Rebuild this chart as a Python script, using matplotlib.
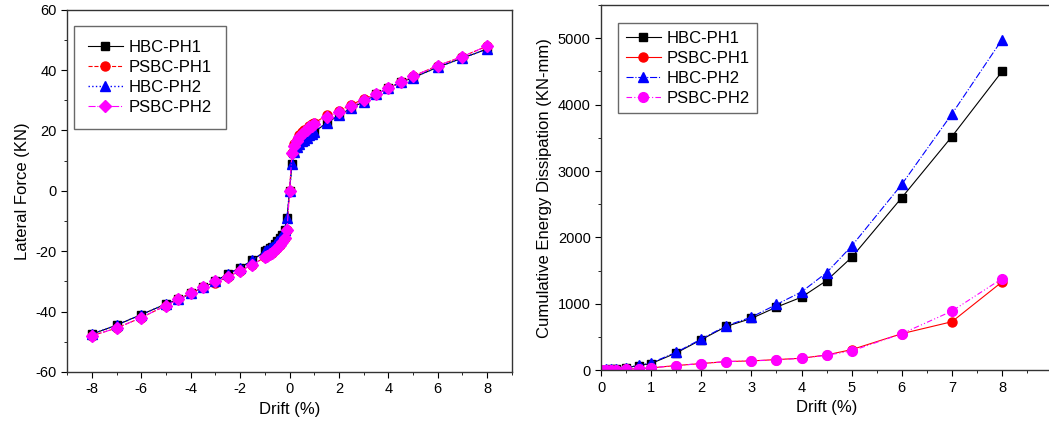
import numpy as np
import matplotlib.pyplot as plt
from matplotlib.ticker import MultipleLocator

plt.rcParams['font.family'] = ['Liberation Sans', 'DejaVu Sans']
plt.rcParams['axes.unicode_minus'] = False

# backbone curves (drift %, lateral force kN)
drift_bb = [-8, -7, -6, -5, -4.5, -4, -3.5, -3, -2.5, -2, -1.5, -1, -0.9, -0.8, -0.7,
            -0.6, -0.5, -0.4, -0.3, -0.2, -0.1, 0, 0.1, 0.2, 0.3, 0.4, 0.5, 0.6, 0.7,
            0.8, 0.9, 1, 1.5, 2, 2.5, 3, 3.5, 4, 4.5, 5, 6, 7, 8]
hbc_ph1_bb = [-47.5, -44.5, -41, -37.5, -36, -34, -32, -30, -27.5, -25.5, -23, -20,
              -19.5, -19, -18.5, -17.5, -16.5, -15.5, -14.5, -13, -9, 0, 9, 13, 14.5,
              15.5, 16.5, 17, 17.5, 18.5, 19, 19.5, 22.5, 25, 27.5, 29.5, 32, 34, 36,
              37.5, 41, 44, 47]
psbc_ph1_bb = [-48, -45.5, -42, -38, -36, -34, -32, -30.5, -28.5, -26.5, -24.5, -22,
               -21.5, -21, -20.5, -19.5, -19, -18, -17, -15.5, -13, 0, 12.5, 15.5, 17,
               18.5, 19.5, 20, 20.5, 21.5, 22, 22.5, 25, 26.5, 28.5, 30.5, 32, 34, 36,
               38, 41.5, 44.5, 48]
hbc_ph2_bb = [-47.5, -44.5, -41, -37.5, -36, -34, -32, -30, -27.5, -25.5, -23, -20,
              -19.5, -19, -18.5, -17.5, -16.5, -15.5, -14.5, -13, -9, 0, 9, 13, 14.5,
              15.5, 16.5, 17, 17.5, 18.5, 19, 19.5, 22.5, 25, 27.5, 29.5, 32, 34, 36,
              37.5, 41, 44, 47]
psbc_ph2_bb = [-48, -45.5, -42, -38, -36, -34, -32, -30, -28.5, -26.5, -24.5, -22,
               -21.5, -21, -20.5, -19.5, -19, -18, -17, -15.5, -13, 0, 12.5, 15, 16.5,
               18, 19, 19.5, 20, 21, 21.5, 22, 24.5, 26, 28, 30, 32, 34, 36, 38, 41.5,
               44.5, 48]

# cumulative energy dissipation (drift %, kN-mm)
drift_en = [0, 0.1, 0.2, 0.3, 0.5, 0.75, 1, 1.5, 2, 2.5, 3, 3.5, 4, 4.5, 5, 6, 7, 8]
hbc_ph1_en = [0, 10, 15, 20, 35, 70, 100, 260, 460, 660, 780, 950, 1100, 1350, 1700,
              2600, 3520, 4500]
psbc_ph1_en = [0, 3, 6, 9, 15, 25, 35, 70, 100, 130, 140, 160, 180, 230, 310, 550,
               730, 1330]
hbc_ph2_en = [0, 12, 18, 24, 40, 75, 110, 270, 470, 670, 800, 990, 1180, 1470, 1870,
              2800, 3860, 4980]
psbc_ph2_en = [0, 3, 6, 9, 15, 25, 35, 70, 100, 130, 140, 155, 180, 225, 290, 550,
               890, 1380]

labels = ['HBC-PH1', 'PSBC-PH1', 'HBC-PH2', 'PSBC-PH2']

fig = plt.figure(figsize=(10.49, 4.26), dpi=100)
ax1 = fig.add_axes([0.064, 0.127, 0.424, 0.85])
ax2 = fig.add_axes([0.573, 0.131, 0.43, 0.857])

# lateral force vs drift
ax1.plot(drift_bb, hbc_ph1_bb, ls='-', color='black', lw=0.8, marker='s', ms=5.5, label=labels[0])
ax1.plot(drift_bb, psbc_ph1_bb, ls='--', color='red', lw=0.8, marker='o', ms=6.5, label=labels[1])
ax1.plot(drift_bb, hbc_ph2_bb, ls=':', color='blue', lw=1.0, marker='^', ms=6.5, label=labels[2])
ax1.plot(drift_bb, psbc_ph2_bb, ls='-.', color='magenta', lw=0.8, marker='D', ms=6, label=labels[3])
ax1.set_xlim(-9, 9)
ax1.set_ylim(-60, 60)
ax1.xaxis.set_major_locator(MultipleLocator(2))
ax1.xaxis.set_minor_locator(MultipleLocator(1))
ax1.yaxis.set_major_locator(MultipleLocator(20))
ax1.yaxis.set_minor_locator(MultipleLocator(10))
ax1.set_xlabel('Drift (%)', fontsize=12)
ax1.set_ylabel('Lateral Force (KN)', fontsize=12, labelpad=4)
ax1.legend(loc='upper left', bbox_to_anchor=(0.015, 0.955), fontsize=12, frameon=True,
           fancybox=False, edgecolor='#444444', handlelength=2.1, handletextpad=0.35,
           borderpad=0.85, labelspacing=0.3, borderaxespad=0)

# cumulative energy vs drift
ax2.plot(drift_en, hbc_ph1_en, ls='-', color='black', lw=0.8, marker='s', ms=5.5, label=labels[0])
ax2.plot(drift_en, psbc_ph1_en, ls='-', color='red', lw=0.8, marker='o', ms=6.5, label=labels[1])
ax2.plot(drift_en, hbc_ph2_en, ls='-.', color='blue', lw=0.8, marker='^', ms=6.5, label=labels[2])
ax2.plot(drift_en, psbc_ph2_en, ls=(0, (5, 2, 1, 2, 1, 2)), color='magenta', lw=0.8, marker='o',
         ms=7, label=labels[3])
ax2.set_xlim(0, 9)
ax2.set_ylim(0, 5500)
ax2.xaxis.set_major_locator(MultipleLocator(1))
ax2.xaxis.set_minor_locator(MultipleLocator(0.5))
ax2.yaxis.set_major_locator(MultipleLocator(1000))
ax2.yaxis.set_minor_locator(MultipleLocator(500))
ax2.set_xlabel('Drift (%)', fontsize=12)
ax2.set_ylabel('Cumulative Energy Dissipation (KN-mm)', fontsize=12, labelpad=4)
ax2.legend(loc='upper left', bbox_to_anchor=(0.038, 0.95), fontsize=12, frameon=True,
           fancybox=False, edgecolor='#444444', handlelength=2.1, handletextpad=0.35,
           borderpad=0.45, labelspacing=0.3, borderaxespad=0)

for ax in (ax1, ax2):
    ax.tick_params(which='major', direction='out', length=4, width=0.8, labelsize=10.5)
    ax.tick_params(which='minor', direction='out', length=2, width=0.6)
    for sp in ax.spines.values():
        sp.set_linewidth(1.0)
        sp.set_color('#333333')

fig.savefig('out.png', dpi=100)
